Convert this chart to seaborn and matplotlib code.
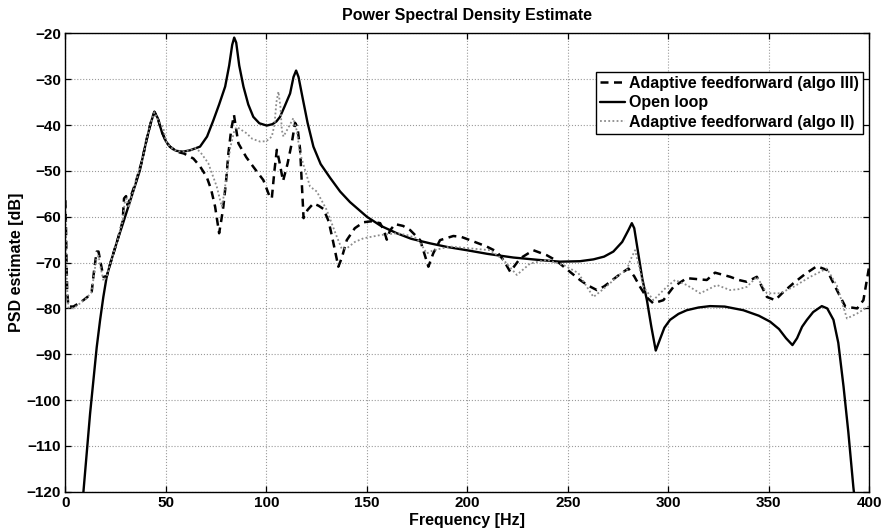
import matplotlib
matplotlib.use('Agg')
import matplotlib.pyplot as plt
import seaborn as sns

# Dados (frequencia em Hz, PSD em dB)
freq_open = [8.5, 9, 12.3, 15.6, 17.3, 18.9, 20.6, 22.5, 26, 29, 33, 37, 40, 42.5, 44.3, 46, 48,
             50, 52, 55, 58.5, 62, 67, 70.5, 73.6, 76.5, 79.5, 81.5, 83, 84, 85, 86.5, 88.6, 91,
             93.5, 96.5, 100.2, 103, 105, 106.8, 109, 111.8, 113.5, 114.8, 116, 118, 120.5, 123.4,
             127, 131.7, 136.7, 141.6, 150, 157, 164.9, 172, 181.4, 190, 199.7, 210, 222.9, 235,
             246, 256, 262.7, 268, 272.6, 277, 280, 281.8, 283, 285, 287, 289.3, 291.5, 293.7, 296,
             298, 300.8, 305, 309.1, 315, 320.7, 328, 337.3, 345, 350.6, 355, 358.5, 361.7, 364,
             366.5, 368.9, 372, 376.3, 379, 382.1, 384.5, 387.1, 389.5, 392, 393]
psd_open = [-123, -120, -103, -88.5, -82.5, -77.5, -73, -70, -65, -61, -55.5, -50, -44, -39.5, -37.1,
            -38.5, -41.5, -43.5, -44.7, -45.6, -45.8, -45.5, -44.7, -42.5, -39, -35.5, -31.6, -27,
            -22.5, -20.9, -22, -27, -31.6, -35.5, -38.2, -39.6, -40.1, -39.8, -39.2, -38.2, -36,
            -33.1, -29.5, -28.1, -29.5, -34, -39.5, -44.7, -48.5, -51.5, -54.5, -56.8, -60, -62,
            -63.6, -64.8, -65.8, -66.6, -67.3, -68.1, -68.9, -69.4, -69.8, -69.7, -69.3, -68.7,
            -67.6, -65.5, -63, -61.4, -62.5, -68, -73.5, -78.2, -84, -89.2, -86.5, -84.2, -82.5,
            -81.2, -80.4, -79.8, -79.5, -79.6, -80.4, -81.6, -82.9, -84.5, -86.5, -88, -86.5, -84,
            -82.5, -80.8, -79.5, -80, -82.5, -87.5, -97, -107, -119, -123]

freq_algo3 = [0, 0.3, 0.6, 0.9, 1.5, 4, 7, 9, 11, 13.1, 14.5, 15.6, 16.5, 17.3, 18.9, 20.6, 22.5,
              26, 28.5, 29.2, 30.2, 31, 35, 38, 40.5, 42.5, 44.3, 46, 48, 50, 52, 55.4, 59, 63.7,
              67, 70.3, 72.5, 74.5, 76.5, 77.5, 78.6, 80, 81.1, 82.5, 83.9, 85, 86.1, 90, 93.5,
              98.5, 101.8, 102.7, 104, 105.2, 106.5, 108.3, 110.5, 112.6, 114.3, 115.5, 116.8,
              118.5, 120.5, 123.4, 126, 128.4, 131, 133, 135.8, 137.5, 140, 144, 148.3, 152, 156.6,
              158.5, 159.9, 161.5, 164, 168, 171.5, 176.5, 180.6, 183, 186.4, 193, 197, 201.3,
              209.6, 214.6, 218, 221.3, 226.2, 232.8, 239.5, 244, 249, 256, 260, 264.4, 268, 271,
              276, 280.1, 283, 285.9, 289, 292.5, 297.5, 302.5, 309.1, 314, 319.1, 323.2, 330.7,
              335, 339, 344, 349, 353.1, 357, 362.2, 368, 373.8, 378.8, 383.8, 388, 393.9, 397,
              399, 400]
psd_algo3 = [-56.4, -62, -70, -76, -79.6, -79.6, -78.8, -78.2, -77.5, -76.4, -71, -67.6, -67.6,
             -69.4, -73.1, -73, -70, -65, -61, -56, -55.5, -57.5, -52.5, -48, -43, -39.5, -37.1,
             -38.5, -41.5, -43.5, -44.7, -45.8, -46.2, -47.3, -49, -51.3, -54, -57.8, -63.6, -61,
             -57.8, -52, -46.2, -41, -37.8, -41, -44, -47, -49.1, -52, -55.8, -56, -50, -45.4, -48,
             -52.2, -48.5, -44, -39.5, -40.5, -45.4, -60.3, -58.5, -57.1, -57.6, -58.3, -61, -65,
             -70.9, -69, -65.1, -62.5, -61.2, -61, -61.4, -63, -65, -63, -61.6, -62, -62.9, -65.1,
             -70.9, -68, -65.1, -64.2, -64.4, -65.1, -66.5, -67.6, -69.5, -72, -69.1, -67.3, -68.4,
             -69.5, -71.3, -73.8, -75, -76, -75.2, -74.2, -72.5, -71.3, -73, -75.3, -77.5, -78.9,
             -78.2, -75.3, -73.4, -73.6, -73.8, -72.2, -73.1, -73.8, -74.2, -73.1, -77.5, -78.2,
             -76.5, -74.5, -72.5, -70.8, -71.6, -76, -79.6, -80, -78.2, -73, -70.5]

freq_algo2 = [0, 0.4, 0.8, 1.5, 4, 7, 10, 13, 15.5, 16.5, 17.5, 19, 20.6, 22.5, 26, 28.5, 29.5,
              30.5, 31.5, 35, 38, 40.5, 42.5, 44.3, 46, 48.8, 50, 52, 55, 58.5, 62, 64.5, 67, 71.1,
              75.3, 77.8, 79, 80.5, 82, 83.9, 85.3, 90.2, 93, 96.9, 100, 102.7, 104, 105, 106, 107,
              107.7, 108.5, 111, 113.4, 115, 116.8, 121.7, 125.1, 130, 133, 135, 137.5, 140, 144,
              148.3, 156.6, 165, 170, 174.8, 177, 179.8, 183.1, 191.4, 201.3, 211.3, 217.9, 224.6,
              231.2, 239.5, 247.8, 255.2, 259, 262.7, 267, 271, 275, 279.3, 281, 283.4, 285.5,
              287.6, 292.5, 299.2, 303.3, 309.1, 315.8, 320, 324.1, 330.7, 335, 339, 344, 349,
              355.6, 362.2, 370.6, 378.8, 383.8, 388.8, 393.9, 398, 400]
psd_algo2 = [-57, -66, -75, -79.8, -80, -79, -78, -76.5, -69, -68.5, -71, -74, -73, -70, -65, -61,
             -57, -56, -58, -52.5, -48, -43, -39.5, -37.2, -38.8, -40.7, -43.5, -44.7, -45.6,
             -45.8, -45.5, -45, -45.8, -48.3, -53.4, -57.8, -55, -50, -45, -41.5, -40.4, -41.8,
             -43, -43.6, -43.5, -42.5, -40, -35, -32.7, -36, -41.1, -42.5, -40.5, -38.5, -41,
             -46.2, -53.4, -54.5, -58.5, -62, -64.3, -67, -66.9, -65.5, -64.7, -64, -63.6, -64,
             -64.7, -66, -68, -67.3, -66.5, -66.9, -67.3, -69.4, -72.7, -70.2, -69.4, -70.5, -72.3,
             -75, -77.5, -76, -74.5, -72.8, -71.6, -69.5, -67.3, -71, -75.3, -78.2, -75.3, -73.8,
             -74.9, -76.7, -75.8, -74.9, -76, -75.8, -75.3, -73.1, -76.7, -76.7, -75.3, -73.1,
             -71.3, -75, -82.2, -81.1, -80, -79.5]

sns.set_theme(style='ticks')
plt.rcParams['font.family'] = ['Liberation Sans', 'DejaVu Sans']
plt.rcParams['font.weight'] = 'bold'
plt.rcParams['text.color'] = 'black'
plt.rcParams['axes.labelcolor'] = 'black'
plt.rcParams['axes.titlecolor'] = 'black'

fig = plt.figure(figsize=(8.89, 5.31), dpi=100)
ax = fig.add_axes([0.0735, 0.074, 0.9045, 0.863])

sns.lineplot(x=freq_algo3, y=psd_algo3, ax=ax, color='black', linewidth=1.8,
             estimator=None, sort=False, label='Adaptive feedforward (algo III)')
ax.lines[-1].set_dashes((3.2, 2.2))
sns.lineplot(x=freq_open, y=psd_open, ax=ax, color='black', linewidth=1.7,
             estimator=None, sort=False, label='Open loop')
sns.lineplot(x=freq_algo2, y=psd_algo2, ax=ax, color='#8c8c8c', linewidth=1.3,
             estimator=None, sort=False, label='Adaptive feedforward (algo II)')
ax.lines[-1].set_dashes((1, 1.3))

ax.set_xlim(0, 400)
ax.set_ylim(-120, -20)
ax.set_xticks(range(0, 401, 50))
ax.set_yticks(range(-120, -19, 10))
ax.grid(True, color='#9a9a9a', linestyle=':', linewidth=0.8)
ax.tick_params(direction='in', top=True, right=True, length=4, width=0.9,
               labelsize=11, pad=3, colors='black')
for s in ax.spines.values():
    s.set_visible(True)
    s.set_linewidth(1.0)
    s.set_color('black')

ax.set_title('Power Spectral Density Estimate', fontsize=11.5, fontweight='bold', pad=10)
ax.set_xlabel('Frequency [Hz]', fontsize=11.5, fontweight='bold', labelpad=2.5)
ax.set_ylabel('PSD estimate [dB]', fontsize=11.5, fontweight='bold', labelpad=2)

leg = ax.legend(loc='upper right', bbox_to_anchor=(0.992, 0.916), fontsize=11.5,
                frameon=True, fancybox=False, framealpha=1, edgecolor='black',
                borderpad=0.25, labelspacing=0.28, handlelength=1.6, handletextpad=0.25,
                borderaxespad=0)
leg.get_frame().set_linewidth(1.0)

plt.savefig('out.png', dpi=100)
